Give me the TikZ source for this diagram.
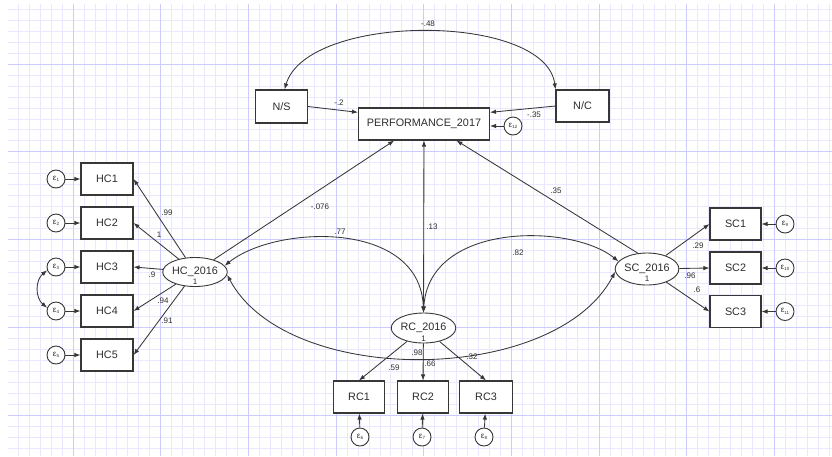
\documentclass[tikz,border=0pt]{standalone}
\usepackage{fontspec}
\setmainfont{Liberation Sans}
\usetikzlibrary{arrows.meta,shapes.geometric}
\definecolor{gminor}{RGB}{232,232,255}
\definecolor{gmajor}{RGB}{203,203,253}
\definecolor{ln}{RGB}{55,55,55}
\definecolor{tx}{RGB}{45,45,45}
\newcommand\errlab[1]{{\fontsize{8}{9}\selectfont ε\raisebox{-1.6pt}{\fontsize{4.5}{5}\selectfont #1}}}
\begin{document}
\begin{tikzpicture}[x=1pt,y=-1pt,
  box/.style={draw=ln,line width=1.1pt,fill=white,minimum width=52pt,minimum height=32pt,inner sep=0pt,font=\fontsize{10.8}{12}\selectfont,text=tx},
  lat/.style={ellipse,draw=ln,line width=0.9pt,fill=white,minimum width=52pt,minimum height=30pt,inner sep=0pt,font=\fontsize{10.8}{12}\selectfont,text=tx},
  err/.style={circle,draw=ln,line width=0.9pt,fill=white,minimum size=18pt,inner sep=0pt,text=tx},
  ar/.style={draw=ln,line width=0.85pt,-{Latex[length=6pt,width=4.5pt]}},
  dar/.style={draw=ln,line width=0.85pt,{Latex[length=6pt,width=4.5pt]}-{Latex[length=6pt,width=4.5pt]}},
  lbl/.style={inner sep=0pt,font=\fontsize{8}{9}\selectfont,text=tx},
]
\useasboundingbox (0,0) rectangle (832,456);
\fill[white] (0,0) rectangle (832,456);
% grid
\foreach \i in {-5,...,69} {\draw[gminor,line width=0.7pt] ({73+10.96*\i},4) -- ({73+10.96*\i},456);}
\foreach \j in {-5,...,35} {\draw[gminor,line width=0.7pt] (8,{64+10.97*\j}) -- (832,{64+10.97*\j});}
\foreach \i in {0,...,8} {\draw[gmajor,line width=1pt] ({73+87.68*\i},4) -- ({73+87.68*\i},456);}
\foreach \j in {0,...,4} {\draw[gmajor,line width=1pt] (8,{64+87.75*\j}) -- (832,{64+87.75*\j});}

% nodes
\node[box,minimum height=33pt] (NS) at (281.5,106.5) {N/S};
\node[box,minimum width=131pt] (PERF) at (424,124) {PERFORMANCE\_2017};
\node[box,minimum width=53pt] (NC) at (582.5,106) {N/C};
\node[err] (e12) at (513,126) {\errlab{12}};

\node[box] (HC1) at (107,179) {HC1};
\node[box] (HC2) at (107,223) {HC2};
\node[box] (HC3) at (107,267) {HC3};
\node[box] (HC4) at (107,311) {HC4};
\node[box] (HC5) at (107,355) {HC5};
\node[err] (e1) at (56,179) {\errlab{1}};
\node[err] (e2) at (56,223) {\errlab{2}};
\node[err] (e3) at (56,267) {\errlab{3}};
\node[err] (e4) at (56,311) {\errlab{4}};
\node[err] (e5) at (56,355) {\errlab{5}};
\node[lat,minimum height=29pt] (HC) at (195,272) {\raisebox{2pt}{HC\_2016}};
\node[lbl] (HCv) at (195,281.5) {1};

\node[box,minimum width=51pt] (SC1) at (735.5,224) {SC1};
\node[box,minimum width=51pt] (SC2) at (735.5,268) {SC2};
\node[box,minimum width=51pt] (SC3) at (735.5,311.5) {SC3};
\node[err] (e9) at (785,224) {\errlab{9}};
\node[err] (e10) at (785,268) {\errlab{10}};
\node[err] (e11) at (785,311.5) {\errlab{11}};
\node[lat,minimum width=51pt,minimum height=32pt] (SC) at (647,269) {\raisebox{1.5pt}{SC\_2016}};
\node[lbl] (SCv) at (647,279) {1};

\node[lat] (RC) at (423.5,328) {\raisebox{1pt}{RC\_2016}};
\node[lbl] (RCv) at (423.5,338.5) {1};
\node[box,minimum width=51pt] (RC1) at (359,397) {RC1};
\node[box,minimum width=51pt] (RC2) at (423,397) {RC2};
\node[box,minimum width=53pt] (RC3) at (486,397) {RC3};
\node[err] (e6) at (360,437) {\errlab{6}};
\node[err] (e7) at (422,437) {\errlab{7}};
\node[err] (e8) at (484,437) {\errlab{8}};

% top connectors
\draw[dar] (NS.80) .. controls +(23,-77) and +(-10,-77) .. (NC.north west);
\draw[ar] (NS.east) -- (PERF.170);
\draw[ar] (NC.west) -- (PERF.10);
\draw[ar] (e12) -- (PERF.east |- e12);

% structural paths
\draw[ar] (HC) -- (PERF.209);
\draw[dar] (PERF.south) -- (RC.north);
\draw[ar] (SC.120) -- (PERF.333);

% covariances
\draw[dar] (HC.12) .. controls +(51,-41) and +(-3,-93) .. (RC.north);
\draw[dar] (RC.north) .. controls +(5,-91) and +(-47,-38) .. (SC.165);
\draw[dar] (HC.-5) .. controls +(60,113) and +(-60,114) .. (SC.185);
\draw[dar] (e3.200) .. controls +(-12,10) and +(-12,-10) .. (e4.160);

% HC loadings
\foreach \k in {1,...,5} {
  \draw[ar] (HC) -- (HC\k.east);
  \draw[ar] (e\k) -- (HC\k);
}
% SC loadings
\draw[ar] (SC) -- (SC1.west);
\draw[ar] (SC) -- (SC2.west);
\draw[ar] (SC) -- (SC3.west);
\draw[ar] (e9) -- (SC1);
\draw[ar] (e10) -- (SC2);
\draw[ar] (e11) -- (SC3);
% RC loadings
\draw[ar] (RC) -- (RC1.north);
\draw[ar] (RC) -- (RC2.north);
\draw[ar] (RC) -- (RC3.north);
\draw[ar] (e6) -- (RC1);
\draw[ar] (e7) -- (RC2);
\draw[ar] (e8) -- (RC3);

% labels
\node[lbl] at (428,24) {-.48};
\node[lbl] at (339,103) {-.2};
\node[lbl] at (534,115) {-.35};
\node[lbl] at (167,213) {.99};
\node[lbl] at (159,235) {1};
\node[lbl] at (152,275) {.9};
\node[lbl] at (163,301) {.94};
\node[lbl] at (167,321) {.91};
\node[lbl] at (320,207) {-.076};
\node[lbl] at (432,227) {.13};
\node[lbl] at (556,191) {.35};
\node[lbl] at (340,232) {.77};
\node[lbl] at (518,253) {.82};
\node[lbl] at (698,246) {.29};
\node[lbl] at (690,276) {.96};
\node[lbl] at (697,290) {.6};
\node[lbl] at (417,353) {.98};
\node[lbl] at (394,368) {.59};
\node[lbl] at (430,364) {.66};
\node[lbl] at (472,357) {.32};
\end{tikzpicture}
\end{document}
